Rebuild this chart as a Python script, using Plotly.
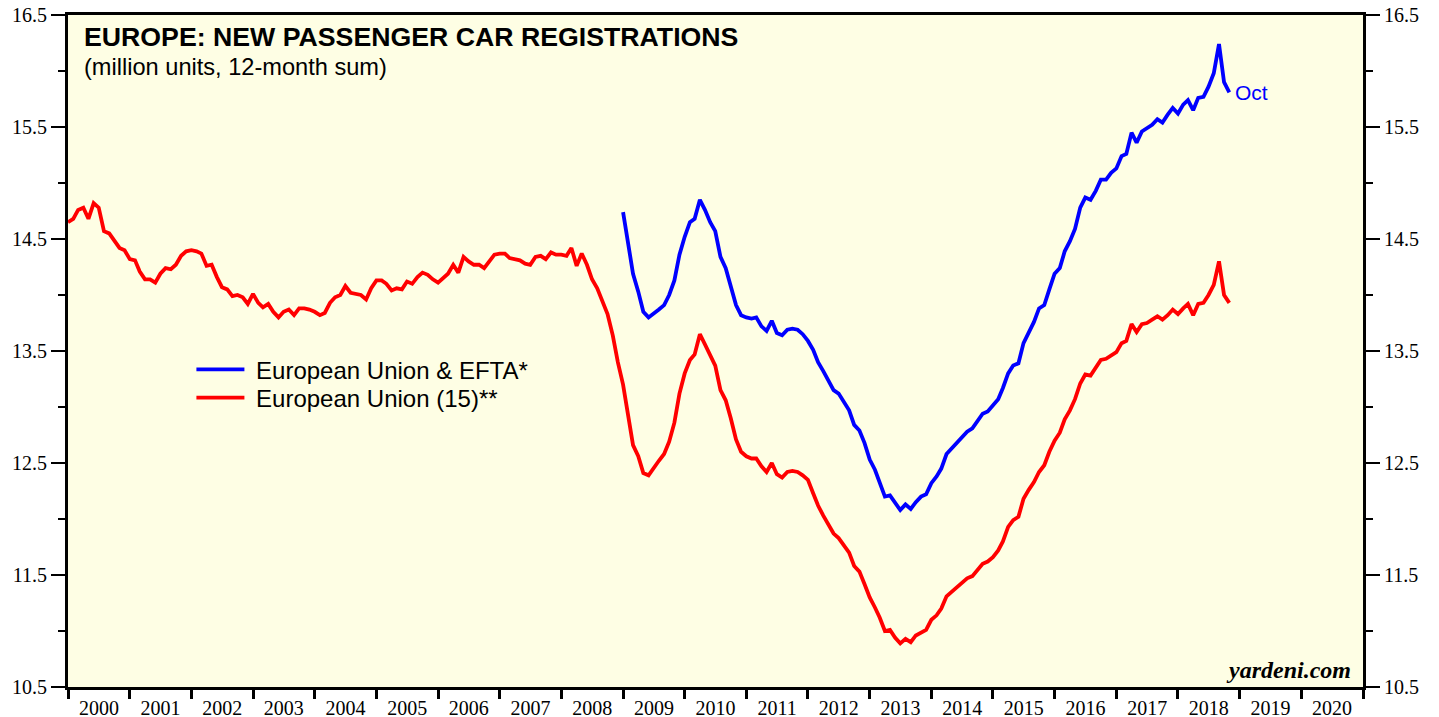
import pandas as pd
import plotly.graph_objects as go

# Monthly dates (12-month sums), first point Dec 1999 plotted at start of 2000
dates = pd.date_range("2000-01-01", periods=227, freq="MS")

eu15 = [
    14.65, 14.68, 14.76, 14.78, 14.68, 14.82, 14.78, 14.57, 14.55, 14.48, 14.42, 14.40,
    14.32, 14.31, 14.21, 14.14, 14.14, 14.11, 14.19, 14.24, 14.23, 14.27, 14.35, 14.39,
    14.40, 14.39, 14.37, 14.26, 14.27, 14.16, 14.07, 14.05, 13.99, 14.00, 13.98, 13.92,
    14.01, 13.93, 13.89, 13.92, 13.85, 13.80, 13.85, 13.87, 13.82, 13.88, 13.88, 13.87,
    13.85, 13.82, 13.84, 13.93, 13.98, 14.00, 14.08, 14.02, 14.01, 14.00, 13.96, 14.06,
    14.13, 14.13, 14.10, 14.04, 14.06, 14.05, 14.12, 14.10, 14.16, 14.20, 14.18, 14.14,
    14.11, 14.15, 14.19, 14.27, 14.20, 14.34, 14.30, 14.27, 14.27, 14.24, 14.30, 14.36,
    14.37, 14.37, 14.33, 14.32, 14.31, 14.28, 14.27, 14.34, 14.35, 14.32, 14.38, 14.36,
    14.36, 14.35, 14.42, 14.26, 14.37, 14.27, 14.14, 14.06, 13.94, 13.83, 13.64, 13.40,
    13.20, 12.90, 12.66, 12.56, 12.41, 12.39, 12.46, 12.52, 12.58, 12.69, 12.86, 13.12,
    13.30, 13.42, 13.47, 13.65, 13.56, 13.46, 13.37, 13.15, 13.06, 12.90, 12.71, 12.60,
    12.56, 12.54, 12.54, 12.47, 12.42, 12.50, 12.40, 12.37, 12.42, 12.43, 12.42, 12.39,
    12.35, 12.23, 12.12, 12.03, 11.95, 11.87, 11.83, 11.77, 11.70, 11.58, 11.53, 11.42,
    11.30, 11.21, 11.12, 11.00, 11.01, 10.94, 10.89, 10.93, 10.90, 10.96, 10.99, 11.01,
    11.10, 11.14, 11.20, 11.31, 11.35, 11.39, 11.43, 11.47, 11.49, 11.55, 11.60, 11.62,
    11.66, 11.72, 11.80, 11.93, 11.99, 12.02, 12.18, 12.26, 12.33, 12.42, 12.48, 12.60,
    12.70, 12.77, 12.89, 12.97, 13.07, 13.21, 13.29, 13.28, 13.35, 13.42, 13.43, 13.46,
    13.49, 13.57, 13.59, 13.74, 13.67, 13.74, 13.75, 13.78, 13.81, 13.78, 13.82, 13.87,
    13.83, 13.88, 13.92, 13.82, 13.92, 13.93, 14.00, 14.09, 14.30, 14.00, 13.93,
]

eu_efta_start = 108
eu_efta = [
    14.74, 14.45, 14.19, 14.03, 13.85, 13.80, 13.84, 13.87, 13.91, 14.00, 14.13, 14.36,
    14.52, 14.65, 14.68, 14.85, 14.76, 14.65, 14.57, 14.34, 14.24, 14.09, 13.91, 13.82,
    13.80, 13.79, 13.80, 13.72, 13.68, 13.77, 13.66, 13.64, 13.69, 13.70, 13.69, 13.65,
    13.59, 13.51, 13.40, 13.32, 13.23, 13.15, 13.12, 13.04, 12.97, 12.84, 12.79, 12.68,
    12.53, 12.44, 12.33, 12.20, 12.21, 12.14, 12.08, 12.13, 12.09, 12.15, 12.20, 12.22,
    12.32, 12.38, 12.45, 12.58, 12.63, 12.67, 12.73, 12.78, 12.81, 12.88, 12.94, 12.96,
    13.01, 13.07, 13.17, 13.30, 13.37, 13.39, 13.57, 13.67, 13.76, 13.88, 13.91, 14.05,
    14.19, 14.24, 14.39, 14.48, 14.59, 14.78, 14.87, 14.85, 14.93, 15.03, 15.03, 15.09,
    15.13, 15.24, 15.26, 15.45, 15.36, 15.46, 15.49, 15.52, 15.57, 15.54, 15.61, 15.67,
    15.62, 15.70, 15.74, 15.65, 15.76, 15.77, 15.86, 15.98, 16.24, 15.90, 15.81,
]

y_major = [10.5, 11.5, 12.5, 13.5, 14.5, 15.5, 16.5]
y_labels = ["10.5", "11.5", "12.5", "13.5", "14.5", "15.5", "16.5"]
x_range = ["2000-01-01", "2021-01-01"]
y_range = [10.5, 16.5]

BLUE = "#0000FF"
RED = "#FF0000"
BG = "#FEFEE4"

fig = go.Figure()
fig.add_trace(go.Scatter(
    x=dates[eu_efta_start:eu_efta_start + len(eu_efta)], y=eu_efta,
    mode="lines", name="\u00a0European Union & EFTA*", legend="legend",
    line=dict(color=BLUE, width=3.8),
))
fig.add_trace(go.Scatter(
    x=dates, y=eu15, mode="lines", name="\u00a0European Union (15)**", legend="legend2",
    line=dict(color=RED, width=3.8),
))
# invisible traces to anchor the right-hand axis and the year-tick axis
fig.add_trace(go.Scatter(
    x=[dates[0]], y=[eu15[0]], yaxis="y2", mode="lines",
    line=dict(width=0), showlegend=False, hoverinfo="skip",
))
fig.add_trace(go.Scatter(
    x=[dates[0]], y=[eu15[0]], xaxis="x2", mode="lines",
    line=dict(width=0), showlegend=False, hoverinfo="skip",
))

tickfont = dict(family="Liberation Serif, Times New Roman, serif", size=20, color="#000")
yaxis_common = dict(
    range=y_range, tickmode="array", tickvals=y_major, ticktext=y_labels,
    ticks="outside", ticklen=14, tickwidth=1.5, tickcolor="#000",
    minor=dict(tickmode="linear", tick0=10.5, dtick=0.5, ticks="outside",
               ticklen=7, tickwidth=1.5, tickcolor="#000"),
    showgrid=False, zeroline=False, tickfont=tickfont, automargin=False,
    ticklabeloverflow="allow",
    showline=True, linecolor="#000", linewidth=3, fixedrange=True,
)

legend_common = dict(
    xanchor="left", yanchor="middle",
    bgcolor="rgba(0,0,0,0)", borderwidth=0,
    font=dict(family="Liberation Sans, Arial, sans-serif", size=24, color="#000"),
    itemwidth=48,
)

# page body has an 8px margin, so the figure is sized to fit inside the window
fig.update_layout(
    width=1431, height=709,
    margin=dict(l=60, r=76, t=7, b=30, autoexpand=False),
    paper_bgcolor="#FFFFFF", plot_bgcolor=BG,
    showlegend=True,
    legend=dict(x=0.0953, y=0.472, **legend_common),
    legend2=dict(x=0.0953, y=0.430, **legend_common),
    xaxis=dict(
        type="date", range=x_range, tick0="2000-01-01", dtick="M12",
        tickformat="%Y", ticklabelmode="period",
        ticks="outside", ticklen=1, tickcolor="rgba(0,0,0,0)",
        showgrid=False, zeroline=False, tickfont=tickfont, automargin=False,
        ticklabeloverflow="allow",
        showline=True, linecolor="#000", linewidth=3, mirror=True,
        fixedrange=True,
    ),
    xaxis2=dict(
        type="date", range=x_range, tick0="2000-01-01", dtick="M12",
        overlaying="x", side="bottom", anchor="y",
        ticks="outside", ticklen=11, tickwidth=2.5, tickcolor="#000",
        showticklabels=False, showgrid=False, zeroline=False, showline=False,
        automargin=False, fixedrange=True,
    ),
    yaxis=dict(side="left", mirror=False, **yaxis_common),
    yaxis2=dict(side="right", overlaying="y", anchor="x", **yaxis_common),
)

fig.add_annotation(
    xref="paper", yref="paper", x=0.0105, y=0.992, xanchor="left", yanchor="top",
    text="<b>EUROPE: NEW PASSENGER CAR REGISTRATIONS</b>", showarrow=False,
    font=dict(family="Liberation Sans, Arial, sans-serif", size=26.7, color="#000"),
)
fig.add_annotation(
    xref="paper", yref="paper", x=0.0105, y=0.945, xanchor="left", yanchor="top",
    text="(million units, 12-month sum)", showarrow=False,
    font=dict(family="Liberation Sans, Arial, sans-serif", size=23.6, color="#000"),
)
fig.add_annotation(
    x=dates[eu_efta_start + len(eu_efta) - 1], y=eu_efta[-1],
    text="Oct", showarrow=False, xanchor="left", yanchor="middle", xshift=4,
    font=dict(family="Liberation Sans, Arial, sans-serif", size=21, color=BLUE),
)
fig.add_annotation(
    xref="paper", yref="paper", x=0.992, y=0.003, xanchor="right", yanchor="bottom",
    text="<b><i>yardeni.com</i></b>", showarrow=False,
    font=dict(family="Liberation Serif, Times New Roman, serif", size=24, color="#000"),
)

fig.write_html("out.html")
